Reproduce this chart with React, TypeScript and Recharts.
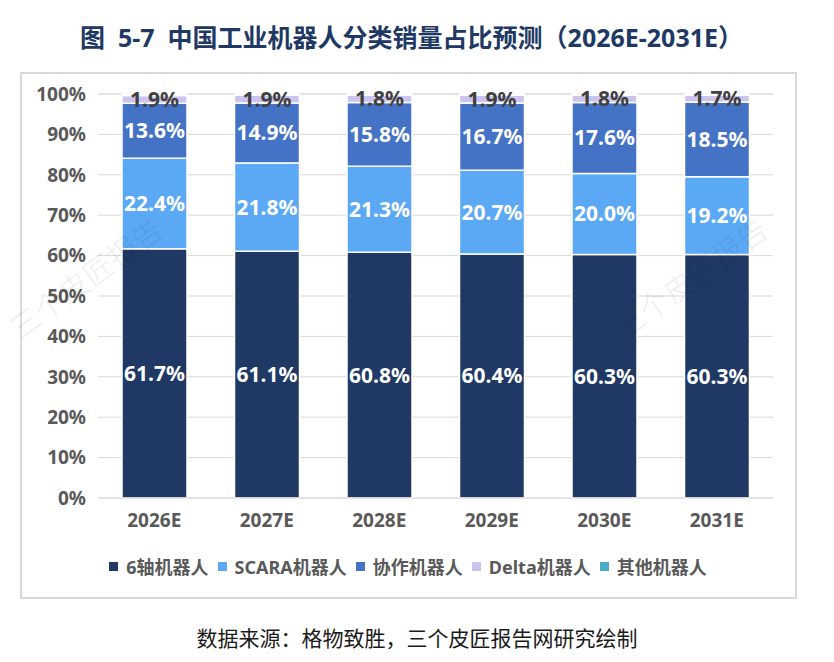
import { Bar, BarChart, CartesianGrid, LabelList, Legend, XAxis, YAxis } from 'recharts';

// 中国工业机器人分类销量占比预测（2026E-2031E），单位：%
const years = ['2026E', '2027E', '2028E', '2029E', '2030E', '2031E'];
const sixAxis = [61.7, 61.1, 60.8, 60.4, 60.3, 60.3];
const scara = [22.4, 21.8, 21.3, 20.7, 20.0, 19.2];
const cobot = [13.6, 14.9, 15.8, 16.7, 17.6, 18.5];
const delta = [1.9, 1.9, 1.8, 1.9, 1.8, 1.7];
const others = [0.4, 0.3, 0.3, 0.3, 0.3, 0.3];
const yTicks = [0, 10, 20, 30, 40, 50, 60, 70, 80, 90, 100];

const FONT = "'Noto Sans', 'Noto Sans CJK SC', sans-serif";

const series = [
  { key: '6轴机器人', values: sixAxis, color: '#203864', label: '#ffffff' },
  { key: 'SCARA机器人', values: scara, color: '#5ba9f5', label: '#ffffff' },
  { key: '协作机器人', values: cobot, color: '#4472c4', label: '#ffffff' },
  { key: 'Delta机器人', values: delta, color: '#cbc5ee', label: '#404040' },
  { key: '其他机器人', values: others, color: '#4bacc6', label: null },
];

const data = years.map((year, i) => {
  const row: Record<string, string | number> = { year };
  series.forEach((s) => {
    row[s.key] = s.values[i];
  });
  return row;
});

function LegendContent() {
  return (
    <div style={{ display: 'flex', justifyContent: 'center', gap: 9, fontFamily: FONT }}>
      {series.map((s) => (
        <div key={s.key} style={{ display: 'flex', alignItems: 'center', gap: 8 }}>
          <span style={{ width: 9, height: 9, background: s.color, display: 'inline-block' }} />
          <span style={{ fontSize: 18, fontWeight: 700, color: '#595959' }}>{s.key}</span>
        </div>
      ))}
    </div>
  );
}

const watermark: React.CSSProperties = {
  position: 'absolute',
  fontFamily: "'Noto Sans CJK SC', sans-serif",
  fontSize: 30,
  color: 'rgba(0,0,0,0.06)',
  transform: 'rotate(-36deg)',
  whiteSpace: 'nowrap',
  pointerEvents: 'none',
};

export default function App() {
  return (
    <div style={{ position: 'absolute', left: 0, top: 0, width: 834, height: 662, background: '#fff' }}>
      <div
        style={{
          position: 'absolute',
          left: 80,
          top: 18,
          fontFamily: FONT,
          fontSize: 25,
          fontWeight: 700,
          color: '#203864',
          whiteSpace: 'pre',
        }}
      >
        {'图  5-7  中国工业机器人分类销量占比预测（2026E-2031E）'}
      </div>
      <div
        style={{
          position: 'absolute',
          left: 20,
          top: 72,
          width: 773,
          height: 523,
          border: '2px solid #d9d9d9',
        }}
      />
      <div style={{ position: 'absolute', left: 0, top: 0 }}>
        <BarChart
          width={834}
          height={662}
          data={data}
          margin={{ top: 94, right: 61, left: 20, bottom: 134 }}
        >
          <CartesianGrid stroke="#d9d9d9" vertical={false} />
          <XAxis
            dataKey="year"
            height={30}
            tickLine={false}
            axisLine={{ stroke: '#d9d9d9' }}
            tickMargin={10}
            tick={{ fontSize: 19, fontWeight: 700, fill: '#595959', fontFamily: FONT }}
          />
          <YAxis
            width={78}
            domain={[0, 100]}
            ticks={yTicks}
            interval={0}
            tickLine={false}
            axisLine={false}
            tickMargin={6}
            tickFormatter={(v) => `${v}%`}
            tick={{ fontSize: 19, fontWeight: 700, fill: '#595959', fontFamily: FONT }}
          />
          <Legend
            layout="horizontal"
            verticalAlign="middle"
            align="center"
            wrapperStyle={{ top: 553, left: 0, width: 816 }}
            content={LegendContent}
          />
          {series.map((s) => (
            <Bar
              key={s.key}
              dataKey={s.key}
              stackId="a"
              fill={s.color}
              stroke="#ffffff"
              strokeWidth={1.5}
              barSize={65}
              isAnimationActive={false}
            >
              {s.label && (
                <LabelList
                  dataKey={s.key}
                  position="center"
                  formatter={(v) => `${Number(v).toFixed(1)}%`}
                  style={{
                    fontSize: 21,
                    fontWeight: 700,
                    fill: s.label,
                    fontFamily: FONT,
                  }}
                />
              )}
            </Bar>
          ))}
        </BarChart>
      </div>
      <div style={{ ...watermark, left: -5, top: 255 }}>三个皮匠报告</div>
      <div style={{ ...watermark, left: 600, top: 255 }}>三个皮匠报告</div>
      <div
        style={{
          position: 'absolute',
          left: 0,
          top: 622,
          width: 834,
          textAlign: 'center',
          fontFamily: "'Noto Sans CJK SC', sans-serif",
          fontSize: 21,
          color: '#1a1a1a',
        }}
      >
        数据来源：格物致胜，三个皮匠报告网研究绘制
      </div>
    </div>
  );
}
